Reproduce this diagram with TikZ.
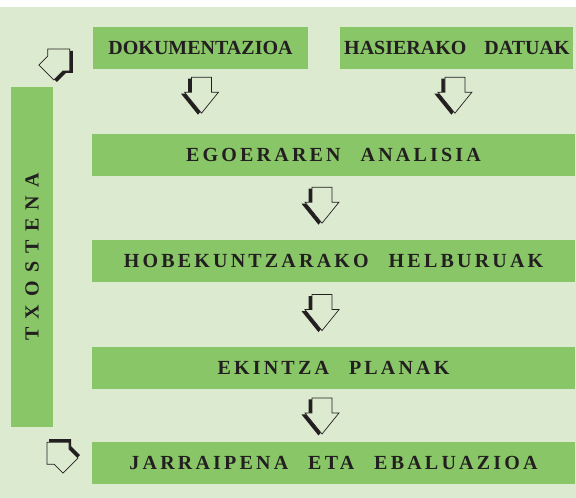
\documentclass[tikz,border=0pt]{standalone}
\usepackage{graphicx}
\usepackage{fontspec}
\setmainfont{Liberation Serif}
\newfontfamily\spacedfont[LetterSpace=16]{Liberation Serif}
\newfontfamily\widefont[LetterSpace=41]{Liberation Serif}
\usetikzlibrary{positioning}
\definecolor{bggreen}{RGB}{220,234,207}
\definecolor{boxgreen}{RGB}{136,198,103}
\definecolor{ink}{RGB}{35,31,32}
\tikzstyle{box}=[fill=boxgreen,text=ink,inner sep=0pt,minimum height=42bp]
\tikzstyle{stepbox}=[box,minimum width=483bp,font=\spacedfont\bfseries\fontsize{20bp}{22bp}\selectfont]
\tikzstyle{inbox}=[box,font=\bfseries\fontsize{20bp}{22bp}\selectfont]
\tikzset{
  downarrow/.pic={
    \fill[ink] (-13.5,-1.5)--(6.5,-1.5)--(6.5,-16.5)--(13.5,-16.5)--(-3.5,-37.5)--(-20.5,-16.5)--(-13.5,-16.5)--cycle;
    \filldraw[fill=bggreen,draw=ink,line width=.7bp] (-10,0)--(10,0)--(10,-15)--(17,-15)--(0,-36)--(-17,-15)--(-10,-15)--cycle;
  },
  cornerarrow/.pic={
    \fill[ink] (2,3)--(24,3)--(24,-4)--(33,-13)--(18,-28)--(9,-19)--(2,-19)--cycle;
    \filldraw[fill=bggreen,draw=ink,line width=.7bp] (0,0)--(22,0)--(22,-7)--(31,-16)--(16,-31)--(7,-22)--(0,-22)--cycle;
  }
}

\begin{document}
\begin{tikzpicture}[x=1bp,y=1bp]
\useasboundingbox (0,0) rectangle (576,498);
\fill[bggreen] (0,0) rectangle (576,491);
% input boxes
\node[inbox,minimum width=215bp] (dok) at (200.5,450) {DOKUMENTAZIOA};
\node[inbox,minimum width=233bp,right=32bp of dok] (has) {HASIERAKO\hspace{18bp}DATUAK};
% report column
\node[box,minimum width=42bp,minimum height=340bp,font=\widefont\bfseries\fontsize{20bp}{22bp}\selectfont] (txo) at (32,241) {\rotatebox{90}{TXOSTENA}};
% steps
\node[stepbox] (ego) at (333.5,343) {EGOERAREN\hspace{20bp}ANALISIA};
\node[stepbox,below=64bp of ego] (hob) {HOBEKUNTZARAKO\hspace{20bp}HELBURUAK};
\node[stepbox,below=64bp of hob] (eki) {EKINTZA\hspace{20bp}PLANAK};
\node[stepbox,below=53bp of eki] (jar) {JARRAIPENA\hspace{20bp}ETA\hspace{20bp}EBALUAZIOA};
% arrows
\pic at ([xshift=1bp,yshift=-8bp]dok.south) {downarrow};
\pic at ([xshift=-2bp,yshift=-8bp]has.south) {downarrow};
\pic at ([xshift=-11.5bp,yshift=-11bp]ego.south) {downarrow};
\pic at ([xshift=-11.5bp,yshift=-12bp]hob.south) {downarrow};
\pic at ([xshift=-11.5bp,yshift=-9bp]eki.south) {downarrow};
\pic at ([xshift=15bp,yshift=-15bp]txo.south) {cornerarrow};
\pic[rotate=-90] at ([xshift=-23bp,yshift=-1bp]dok.west) {cornerarrow};
\end{tikzpicture}
\end{document}
